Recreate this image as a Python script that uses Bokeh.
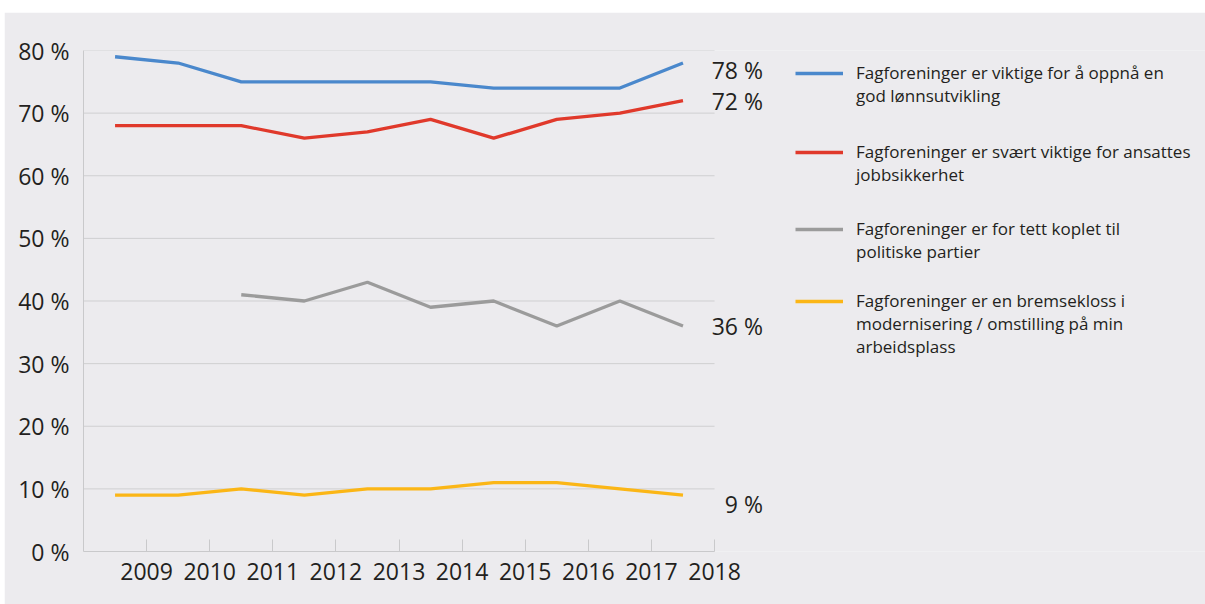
from bokeh.plotting import figure
from bokeh.models import (ColumnDataSource, FixedTicker, PrintfTickFormatter,
                          Legend, LegendItem, Label, Range1d)
from bokeh.embed import file_html
from bokeh.resources import INLINE

# ---- data ----
tick_years = ["2009", "2010", "2011", "2012", "2013", "2014", "2015", "2016", "2017", "2018"]
tick_pos = [1, 2, 3, 4, 5, 6, 7, 8, 9, 10]
positions = [0.5, 1.5, 2.5, 3.5, 4.5, 5.5, 6.5, 7.5, 8.5, 9.5]
lonn = [79, 78, 75, 75, 75, 75, 74, 74, 74, 78]
jobb = [68, 68, 68, 66, 67, 69, 66, 69, 70, 72]
politisk = [None, None, 41, 40, 43, 39, 40, 36, 40, 36]
brems = [9, 9, 10, 9, 10, 10, 11, 11, 10, 9]
y_ticks = [0, 10, 20, 30, 40, 50, 60, 70, 80]
series_lines = [
    ["Fagforeninger er viktige for å oppnå en", "god lønnsutvikling"],
    ["Fagforeninger er svært viktige for ansattes", "jobbsikkerhet"],
    ["Fagforeninger er for tett koplet til", "politiske partier"],
    ["Fagforeninger er en bremsekloss i", "modernisering / omstilling på min", "arbeidsplass"],
]
colors = ["#4a88cc", "#e0392b", "#9b9b9b", "#fbb616"]
end_label_offsets = [-7, 0, 0, -9]

BG = "#ecebee"
FONT = "Open Sans"
TEXT = "#231f20"
AXIS = "#c9c9cb"

X_END = 10
X_FRAME_END = 17.78  # frame continues to the right to host labels and legend

p = figure(width=1201, height=592, output_backend="svg", toolbar_location=None,
           x_range=Range1d(0, X_FRAME_END), y_range=Range1d(0, 80),
           min_border_left=79, min_border_top=38, min_border_bottom=53,
           min_border_right=0)
p.styles = {"margin-top": "12px", "margin-left": "4px"}
p.background_fill_color = BG
p.border_fill_color = BG
p.outline_line_color = None

# horizontal grid lines spanning only the category area
grid_src = ColumnDataSource(dict(y=y_ticks[1:], x0=[0] * (len(y_ticks) - 1),
                                 x1=[X_END] * (len(y_ticks) - 1)))
p.segment(x0="x0", x1="x1", y0="y", y1="y", source=grid_src,
          line_color="#cfcfd1", line_width=1)

nan = float("nan")
all_series = [lonn, jobb, politisk, brems]
renderers = []
for vals, col in zip(all_series, colors):
    ys = [nan if v is None else v for v in vals]
    src = ColumnDataSource(dict(x=positions, y=ys))
    r = p.line("x", "y", source=src, line_color=col, line_width=3.3)
    renderers.append(r)

# end labels
for vals, off in zip(all_series, end_label_offsets):
    last = vals[-1]
    lab = Label(x=positions[-1], y=last, x_offset=80, y_offset=off,
                text=f"{last} %", text_align="right", text_baseline="middle",
                text_font=FONT, text_font_size="23px", text_color=TEXT)
    p.add_layout(lab)

# axes
p.xaxis.bounds = (0, X_END)
p.xaxis.ticker = FixedTicker(ticks=tick_pos)
p.xaxis.major_label_overrides = {t: y for t, y in zip(tick_pos, tick_years)}
p.xaxis.major_tick_in = 12
p.xaxis.major_tick_out = 0
p.xaxis.minor_tick_line_color = None
p.xaxis.axis_line_color = AXIS
p.xaxis.major_tick_line_color = AXIS
p.xaxis.major_label_standoff = 11
p.xaxis.major_label_text_font = FONT
p.xaxis.major_label_text_font_size = "23px"
p.xaxis.major_label_text_color = TEXT

p.yaxis.ticker = FixedTicker(ticks=y_ticks)
p.yaxis.formatter = PrintfTickFormatter(format="%d %%")
p.yaxis.major_tick_line_color = None
p.yaxis.minor_tick_line_color = None
p.yaxis.axis_line_color = AXIS
p.yaxis.major_label_standoff = 8
p.yaxis.major_label_text_font = FONT
p.yaxis.major_label_text_font_size = "23px"
p.yaxis.major_label_text_color = TEXT

p.xgrid.grid_line_color = None
p.ygrid.grid_line_color = None

# legend: one entry per series; blank lines above the text keep the swatch
# level with the first line of a wrapped label
LH = 24
swatch_screen_y = [71, 150, 227, 298]
frame_bottom = 551
for lines, r, sy in zip(series_lines, renderers, swatch_screen_y):
    m = len(lines)
    k = m - 1
    label = "\n".join([""] * k + lines)
    bottom = sy + (2 * k + 1) * LH / 2
    leg = Legend(items=[LegendItem(label=label, renderers=[r])],
                 location=(712, frame_bottom - bottom), margin=0, padding=0,
                 glyph_width=48, glyph_height=20, label_standoff=13,
                 label_text_font=FONT, label_text_font_size="17px",
                 label_text_color=TEXT, label_text_line_height=LH / 17,
                 background_fill_alpha=0, border_line_color=None)
    p.add_layout(leg)

open("out.html", "w").write(file_html(p, INLINE))
